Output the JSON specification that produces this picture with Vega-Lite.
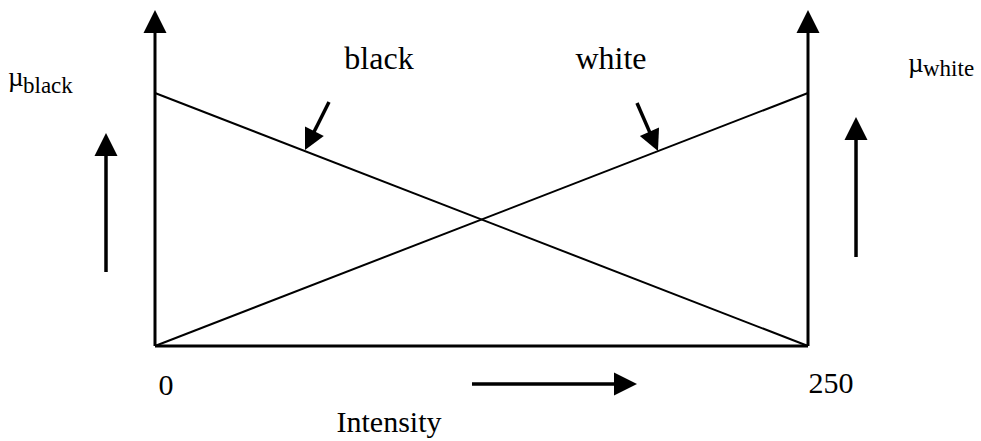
{
  "$schema": "https://vega.github.io/schema/vega-lite/v6.json",
  "width": 981,
  "height": 441,
  "padding": 0,
  "autosize": {"type": "fit", "contains": "padding"},
  "background": "white",
  "config": {"view": {"stroke": null}},
  "datasets": {
    "segments": [
      {"id": "left axis", "kind": "axis", "x": 0, "y": 0, "x2": 0, "y2": 1.249},
      {"id": "right axis", "kind": "axis", "x": 250, "y": 0, "x2": 250, "y2": 1.249},
      {"id": "intensity axis", "kind": "axis", "x": 0, "y": 0, "x2": 250, "y2": 0},
      {"id": "black", "kind": "membership", "x": 0, "y": 1, "x2": 250, "y2": 0},
      {"id": "white", "kind": "membership", "x": 0, "y": 0, "x2": 250, "y2": 1},
      {"id": "mu black arrow", "kind": "pointer", "x": -18.76, "y": 0.2925, "x2": -18.76, "y2": 0.7747},
      {"id": "mu white arrow", "kind": "pointer", "x": 268.38, "y": 0.3518, "x2": 268.38, "y2": 0.8379},
      {"id": "intensity arrow", "kind": "pointer", "x": 121.36, "y": -0.1502, "x2": 177.99, "y2": -0.1502},
      {"id": "black pointer", "kind": "pointer", "x": 66.62, "y": 0.9644, "x2": 59.23, "y2": 0.8119},
      {"id": "white pointer", "kind": "pointer", "x": 184.53, "y": 0.9605, "x2": 190.93, "y2": 0.8087}
    ],
    "heads": [
      {"id": "left axis", "kind": "up", "x": 0, "y": 1.2826},
      {"id": "right axis", "kind": "up", "x": 250, "y": 1.2826},
      {"id": "mu black arrow", "kind": "up", "x": -18.76, "y": 0.7964},
      {"id": "mu white arrow", "kind": "up", "x": 268.38, "y": 0.8597},
      {"id": "intensity arrow", "kind": "right", "x": 180.13, "y": -0.1502},
      {"id": "black pointer", "kind": "black", "x": 59.23, "y": 0.8119},
      {"id": "white pointer", "kind": "white", "x": 190.93, "y": 0.8087}
    ],
    "labels": [
      {"text": "black", "kind": "curve", "x": 85.76, "y": 1.0949},
      {"text": "white", "kind": "curve", "x": 174.58, "y": 1.0949},
      {"text": "0", "kind": "main", "x": 4.21, "y": -0.1937},
      {"text": "250", "kind": "main", "x": 258.81, "y": -0.1858},
      {"text": "Intensity", "kind": "main", "x": 89.59, "y": -0.3399},
      {"text": "µ", "kind": "mu", "x": -56.28, "y": 1.0277},
      {"text": "black", "kind": "sub", "x": -50.54, "y": 1.0},
      {"text": "µ", "kind": "mu", "x": 288.29, "y": 1.083},
      {"text": "white", "kind": "sub", "x": 294.03, "y": 1.0672}
    ]
  },
  "layer": [
    {
      "data": {"name": "segments"},
      "transform": [{"filter": "datum.kind == 'axis'"}],
      "mark": {"type": "rule", "color": "black", "strokeWidth": 3},
      "encoding": {
        "x": {"field": "x", "type": "quantitative", "scale": {"domain": [-59.34, 316.23], "nice": false, "zero": false}, "axis": null},
        "y": {"field": "y", "type": "quantitative", "scale": {"domain": [-0.3755, 1.3676], "nice": false, "zero": false}, "axis": null},
        "x2": {"field": "x2"},
        "y2": {"field": "y2"}
      }
    },
    {
      "data": {"name": "segments"},
      "transform": [{"filter": "datum.kind == 'membership'"}],
      "mark": {"type": "rule", "color": "black", "strokeWidth": 2},
      "encoding": {
        "x": {"field": "x", "type": "quantitative", "scale": {"domain": [-59.34, 316.23], "nice": false, "zero": false}, "axis": null},
        "y": {"field": "y", "type": "quantitative", "scale": {"domain": [-0.3755, 1.3676], "nice": false, "zero": false}, "axis": null},
        "x2": {"field": "x2"},
        "y2": {"field": "y2"}
      }
    },
    {
      "data": {"name": "segments"},
      "transform": [{"filter": "datum.kind == 'pointer'"}],
      "mark": {"type": "rule", "color": "black", "strokeWidth": 3.5},
      "encoding": {
        "x": {"field": "x", "type": "quantitative", "scale": {"domain": [-59.34, 316.23], "nice": false, "zero": false}, "axis": null},
        "y": {"field": "y", "type": "quantitative", "scale": {"domain": [-0.3755, 1.3676], "nice": false, "zero": false}, "axis": null},
        "x2": {"field": "x2"},
        "y2": {"field": "y2"}
      }
    },
    {
      "data": {"name": "heads"},
      "transform": [{"filter": "datum.kind == 'up'"}],
      "mark": {"type": "point", "shape": "M0,-1L-1,1L1,1Z", "filled": true, "color": "black", "opacity": 1, "size": 529, "angle": 0},
      "encoding": {
        "x": {"field": "x", "type": "quantitative", "scale": {"domain": [-59.34, 316.23], "nice": false, "zero": false}, "axis": null},
        "y": {"field": "y", "type": "quantitative", "scale": {"domain": [-0.3755, 1.3676], "nice": false, "zero": false}, "axis": null}
      }
    },
    {
      "data": {"name": "heads"},
      "transform": [{"filter": "datum.kind == 'right'"}],
      "mark": {"type": "point", "shape": "M0,-1L-1,1L1,1Z", "filled": true, "color": "black", "opacity": 1, "size": 529, "angle": 90},
      "encoding": {
        "x": {"field": "x", "type": "quantitative", "scale": {"domain": [-59.34, 316.23], "nice": false, "zero": false}, "axis": null},
        "y": {"field": "y", "type": "quantitative", "scale": {"domain": [-0.3755, 1.3676], "nice": false, "zero": false}, "axis": null}
      }
    },
    {
      "data": {"name": "heads"},
      "transform": [{"filter": "datum.kind == 'black'"}],
      "mark": {"type": "point", "shape": "M0,-1L-1,1L1,1Z", "filled": true, "color": "black", "opacity": 1, "size": 441, "angle": 206.6},
      "encoding": {
        "x": {"field": "x", "type": "quantitative", "scale": {"domain": [-59.34, 316.23], "nice": false, "zero": false}, "axis": null},
        "y": {"field": "y", "type": "quantitative", "scale": {"domain": [-0.3755, 1.3676], "nice": false, "zero": false}, "axis": null}
      }
    },
    {
      "data": {"name": "heads"},
      "transform": [{"filter": "datum.kind == 'white'"}],
      "mark": {"type": "point", "shape": "M0,-1L-1,1L1,1Z", "filled": true, "color": "black", "opacity": 1, "size": 441, "angle": 156},
      "encoding": {
        "x": {"field": "x", "type": "quantitative", "scale": {"domain": [-59.34, 316.23], "nice": false, "zero": false}, "axis": null},
        "y": {"field": "y", "type": "quantitative", "scale": {"domain": [-0.3755, 1.3676], "nice": false, "zero": false}, "axis": null}
      }
    },
    {
      "data": {"name": "labels"},
      "transform": [{"filter": "datum.kind == 'curve'"}],
      "mark": {"type": "text", "font": "Liberation Serif", "fontSize": 32, "align": "center", "baseline": "alphabetic", "color": "black"},
      "encoding": {
        "x": {"field": "x", "type": "quantitative", "scale": {"domain": [-59.34, 316.23], "nice": false, "zero": false}, "axis": null},
        "y": {"field": "y", "type": "quantitative", "scale": {"domain": [-0.3755, 1.3676], "nice": false, "zero": false}, "axis": null},
        "text": {"field": "text"}
      }
    },
    {
      "data": {"name": "labels"},
      "transform": [{"filter": "datum.kind == 'main'"}],
      "mark": {"type": "text", "font": "Liberation Serif", "fontSize": 30, "align": "center", "baseline": "alphabetic", "color": "black"},
      "encoding": {
        "x": {"field": "x", "type": "quantitative", "scale": {"domain": [-59.34, 316.23], "nice": false, "zero": false}, "axis": null},
        "y": {"field": "y", "type": "quantitative", "scale": {"domain": [-0.3755, 1.3676], "nice": false, "zero": false}, "axis": null},
        "text": {"field": "text"}
      }
    },
    {
      "data": {"name": "labels"},
      "transform": [{"filter": "datum.kind == 'mu'"}],
      "mark": {"type": "text", "font": "Liberation Serif", "fontSize": 27, "align": "left", "baseline": "alphabetic", "color": "black"},
      "encoding": {
        "x": {"field": "x", "type": "quantitative", "scale": {"domain": [-59.34, 316.23], "nice": false, "zero": false}, "axis": null},
        "y": {"field": "y", "type": "quantitative", "scale": {"domain": [-0.3755, 1.3676], "nice": false, "zero": false}, "axis": null},
        "text": {"field": "text"}
      }
    },
    {
      "data": {"name": "labels"},
      "transform": [{"filter": "datum.kind == 'sub'"}],
      "mark": {"type": "text", "font": "Liberation Serif", "fontSize": 23, "align": "left", "baseline": "alphabetic", "color": "black"},
      "encoding": {
        "x": {"field": "x", "type": "quantitative", "scale": {"domain": [-59.34, 316.23], "nice": false, "zero": false}, "axis": null},
        "y": {"field": "y", "type": "quantitative", "scale": {"domain": [-0.3755, 1.3676], "nice": false, "zero": false}, "axis": null},
        "text": {"field": "text"}
      }
    }
  ]
}
